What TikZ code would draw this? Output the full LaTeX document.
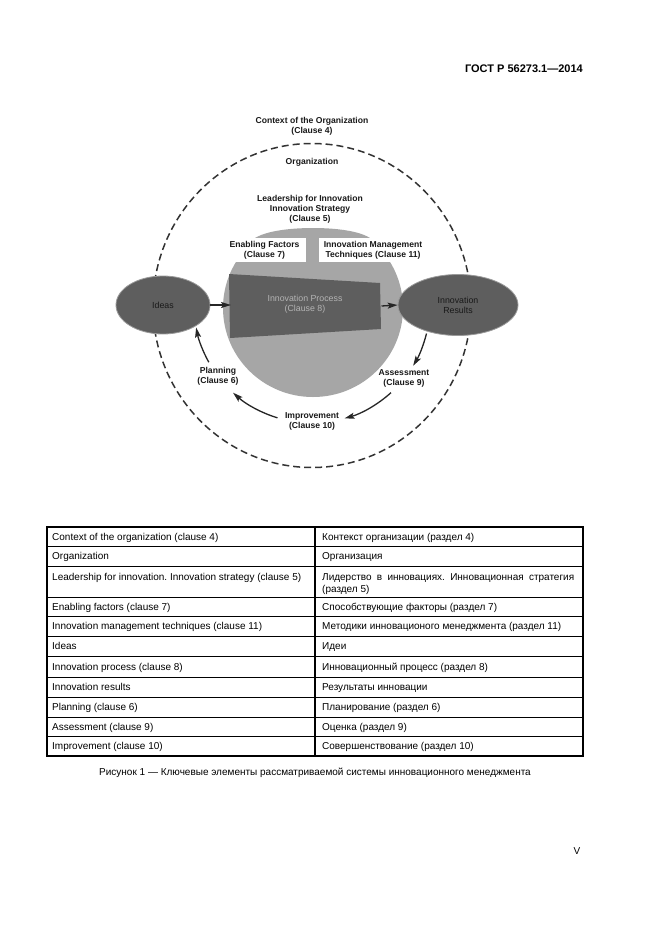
\documentclass[tikz,border=0pt]{standalone}
\usepackage{fontspec}
\setmainfont{Liberation Sans}
\usetikzlibrary{arrows.meta,calc,shapes.geometric}
\definecolor{lgray}{HTML}{A6A6A6}
\definecolor{dgray}{HTML}{5E5E5E}
\definecolor{rimgray}{HTML}{9A9A9A}
\definecolor{ptext}{HTML}{B4B4B4}
\frenchspacing
\begin{document}
\begin{tikzpicture}[x=1pt,y=-1pt,
  dlabel/.style={font=\bfseries\fontsize{8.6}{10}\selectfont, align=center, text=black!90, inner sep=0pt},
  wbox/.style={fill=white, inner sep=0pt, align=center, font=\bfseries\fontsize{8.6}{10}\selectfont, text=black!90},
  blob/.style={ellipse, fill=dgray, draw=rimgray, line width=0.8pt, inner sep=0pt, align=center, font=\fontsize{8.8}{10}\selectfont, text=black!90},
  arr/.style={line width=1.3pt, draw=black!85, -{Stealth[length=10pt,width=6pt,inset=2pt]}},
  orbit/.style={dash pattern=on 7pt off 4pt, line width=1.5pt, draw=black!80},
  tline/.style={line width=1pt, draw=black},
  tframe/.style={line width=1.5pt, draw=black},
  tcell/.style={anchor=base west, inner sep=0pt, font=\fontsize{10}{12}\selectfont},
  ]
\useasboundingbox (0,0) rectangle (661,935);
\fill[white] (0,0) rectangle (661,935);

% header
\node[anchor=base east, inner sep=0pt, font=\bfseries\fontsize{11}{13}\selectfont] (hdr) at (583,72) {ГОСТ Р 56273.1—2014};

% ---------- diagram ----------
\coordinate (C) at (312,305);
\draw[orbit] (312,305.5) ellipse [x radius=159, y radius=162];

% light gray body
\begin{scope}
  \clip (200,245) rectangle (430,410);
  \fill[lgray] (313,308) ellipse [x radius=90, y radius=89];
\end{scope}
\fill[lgray] (255,238) .. controls (270,229) and (300,228) .. (313,228) .. controls (326,228) and (356,229) .. (370,238) -- (370,270) -- (255,270) -- cycle;

% white label boxes
\node[wbox, minimum width=83pt, minimum height=24pt] (enab) at (264.5,250) {Enabling Factors\\(Clause 7)};
\node[wbox, minimum width=108pt, minimum height=24pt] (imt) at (373,250) {Innovation Management\\Techniques (Clause 11)};

% innovation process
\fill[dgray] (229,274) coordinate (p1) -- (380,283) coordinate (p2) -- (381,329) coordinate (p3) -- (230,338) coordinate (p4) -- cycle;
\node[inner sep=0pt, align=center, text=ptext, font=\fontsize{8.8}{10}\selectfont] (proc) at (305,304) {Innovation Process\\(Clause 8)};
\coordinate (procW) at (231,305);
\coordinate (procE) at (381.5,306);

% ellipses
\node[blob, minimum width=94pt, minimum height=58pt] (ideas) at (163,305) {Ideas};
\node[blob, minimum width=120pt, minimum height=61pt] (results) at (458,305) {Innovation\\Results};

% texts
\node[dlabel] (ctx) at (312,126) {Context of the Organization\\(Clause 4)};
\node[dlabel] (org) at (312,162) {Organization};
\node[dlabel] (lead) at (310,209) {Leadership for Innovation\\Innovation Strategy\\(Clause 5)};
\node[dlabel] (assess) at (404,378) {Assessment\\(Clause 9)};
\node[dlabel] (impr) at (312,421) {Improvement\\(Clause 10)};
\node[dlabel] (plan) at (218,376) {Planning\\(Clause 6)};

% straight arrows
\draw[arr] (ideas.east) -- (procW);
\draw[arr] (procE) -- (results.west);

% cycle arrows (arcs about C)
\coordinate (r1) at ($(C)+(14:118)$);
\coordinate (s1) at ($(C)+(48:118)$);
\coordinate (t1) at ($(C)+(107:118)$);
\coordinate (u1) at ($(C)+(151:118)$);
\draw[arr] (r1) arc[start angle=14, end angle=31, radius=118];
\draw[arr] (s1) arc[start angle=48, end angle=74, radius=118];
\draw[arr] (t1) arc[start angle=107, end angle=132, radius=118];
\draw[arr] (u1) arc[start angle=151, end angle=169, radius=118];

% ---------- table ----------
\foreach \yy in {546,566,597,616,636,656,677,697,717,736} {
  \draw[tline] (47,\yy) -- (583,\yy);
}
\draw[tframe] (315,527) -- (315,756);
\draw[tframe] (47,527) rectangle (583,756);

\node[tcell] (l1) at (52,540) {Context of the organization (clause 4)};
\node[tcell] (r1t) at (322,540) {Контекст организации (раздел 4)};
\node[tcell] (l2) at (52,559.5) {Organization};
\node[tcell] (r2t) at (322,559.5) {Организация};
\node[tcell] (l3) at (52,580) {Leadership for innovation. Innovation strategy (clause 5)};
\node[tcell] (r3a) at (322,580) {\makebox[252pt][s]{Лидерство в инновациях. Инновационная стратегия}};
\node[tcell] (r3b) at (322,592) {(раздел 5)};
\node[tcell] (l4) at (52,610) {Enabling factors (clause 7)};
\node[tcell] (r4t) at (322,610) {Способствующие факторы (раздел 7)};
\node[tcell] (l5) at (52,629.5) {Innovation management techniques (clause 11)};
\node[tcell] (r5t) at (322,629.5) {Методики инновационого менеджмента (раздел 11)};
\node[tcell] (l6) at (52,649.5) {Ideas};
\node[tcell] (r6t) at (322,649.5) {Идеи};
\node[tcell] (l7) at (52,670) {Innovation process (clause 8)};
\node[tcell] (r7t) at (322,670) {Инновационный процесс (раздел 8)};
\node[tcell] (l8) at (52,690.5) {Innovation results};
\node[tcell] (r8t) at (322,690.5) {Результаты инновации};
\node[tcell] (l9) at (52,710.5) {Planning (clause 6)};
\node[tcell] (r9t) at (322,710.5) {Планирование (раздел 6)};
\node[tcell] (l10) at (52,730) {Assessment (clause 9)};
\node[tcell] (r10t) at (322,730) {Оценка (раздел 9)};
\node[tcell] (l11) at (52,749.5) {Improvement (clause 10)};
\node[tcell] (r11t) at (322,749.5) {Совершенствование (раздел 10)};

% caption and page number
\node[anchor=base, inner sep=0pt, font=\fontsize{10}{12}\selectfont] (cap) at (315,775.5) {Рисунок 1 — Ключевые элементы рассматриваемой системы инновационного менеджмента};
\node[anchor=base, inner sep=0pt, font=\fontsize{10}{12}\selectfont] (pg) at (577,854) {V};
\end{tikzpicture}
\end{document}
